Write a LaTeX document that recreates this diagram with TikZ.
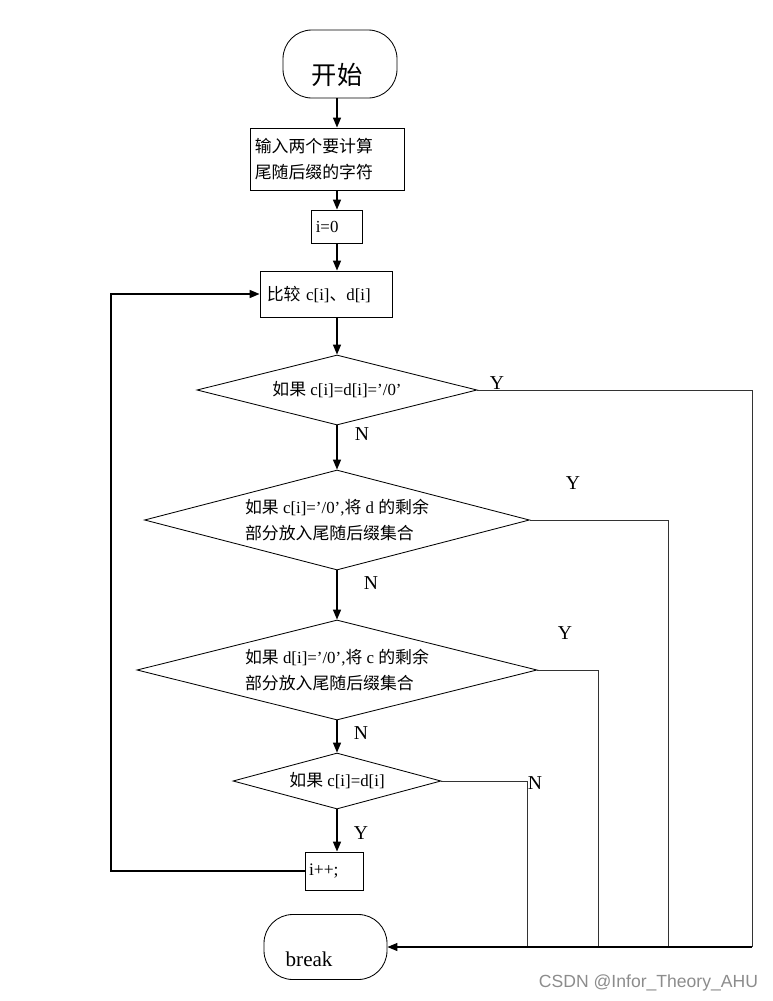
\documentclass[tikz,border=0pt]{standalone}
\usepackage{fontspec}
\setmainfont{Liberation Serif}
\newfontfamily\cjk{Noto Sans CJK SC}
\newfontfamily\wmfont{Liberation Sans}
\usetikzlibrary{arrows.meta,shapes.geometric}

\begin{document}
\begin{tikzpicture}[x=1cm,y=1cm,
  >={Triangle[length=0.25cm,width=0.2cm]},
  box/.style={draw,line width=0.6pt,inner xsep=0.12cm,inner ysep=0pt,align=left},
  term/.style={draw,line width=0.6pt,rounded corners=0.72cm},
  cond/.style={draw,diamond,line width=0.6pt,inner sep=0pt,align=left,font=\fontsize{12}{18}\selectfont},
  flow/.style={->,line width=1pt},
  rail/.style={line width=0.5pt,draw=black!80},
  yn/.style={font=\fontsize{14}{14}\selectfont}]
\useasboundingbox (0,0) rectangle (19.325,-25.025);

\coordinate (axis) at (8.425,0);
\coordinate (loop) at (2.775,0);
\coordinate (rail1) at (18.8,-23.675);
\coordinate (rail2) at (16.7,-23.675);
\coordinate (rail3) at (14.95,-23.675);
\coordinate (rail4) at (13.175,-23.675);

\node[term,minimum width=2.85cm,minimum height=1.7cm,
  label={[name=startlbl,xshift=-0.075cm,yshift=-0.275cm,font=\fontsize{18}{18}\cjk]center:开始}] (start) at (8.5,-1.6) {};
\node[box,minimum width=3.85cm,minimum height=1.55cm,text width=3.61cm,font=\fontsize{12}{18.5}\cjk] (input) at (8.175,-3.975) {输入两个要计算\\尾随后缀的字符};
\node[box,minimum width=1.275cm,minimum height=0.825cm,text width=1.035cm,font=\fontsize{12}{14}\selectfont] (init) at (8.4125,-5.6625) {i=0};
\node[box,inner xsep=0.17cm,minimum width=3.3cm,minimum height=1.15cm,text width=2.96cm,font=\fontsize{12}{14}\selectfont] (cmp) at (8.15,-7.35) {{\cjk 比较} c[i]{\cjk 、}d[i]};

\node[cond,minimum width=7cm,minimum height=1.75cm,aspect=4] (d1) at (8.425,-9.75) {{\cjk 如果} c[i]=d[i]=’/0’};
\node[cond,minimum width=9.625cm,minimum height=2.5cm,aspect=3.85] (d2) at (8.425,-13) {{\cjk 如果} c[i]=’/0’,{\cjk 将} d {\cjk 的剩余}\\{\cjk 部分放入尾随后缀集合}};
\node[cond,minimum width=10cm,minimum height=2.5cm,aspect=4] (d3) at (8.425,-16.75) {{\cjk 如果} d[i]=’/0’,{\cjk 将} c {\cjk 的剩余}\\{\cjk 部分放入尾随后缀集合}};
\node[cond,minimum width=5.2cm,minimum height=1.4cm,aspect=3.7] (d4) at (8.425,-19.525) {{\cjk 如果} c[i]=d[i]};

\node[box,inner xsep=0.1cm,minimum width=1.45cm,minimum height=0.95cm,text width=1.25cm,font=\fontsize{12.5}{14}\selectfont] (inc) at (8.35,-21.775) {i++;};
\node[term,minimum width=3.075cm,minimum height=1.625cm,
  label={[name=brklbl,xshift=-0.41cm,yshift=-0.3cm,font=\fontsize{15}{15}\selectfont]center:break}] (brk) at (8.1375,-23.675) {};

\draw[flow] (start.south -| axis) -- (input.north -| axis);
\draw[flow] (input.south -| axis) -- (init.north -| axis);
\draw[flow] (init.south -| axis) -- (cmp.north -| axis);
\draw[flow] (cmp.south -| axis) -- (d1.north);
\draw[flow] (d1.south) -- (d2.north);
\draw[flow] (d2.south) -- (d3.north);
\draw[flow] (d3.south) -- (d4.north);
\draw[flow] (d4.south) -- (inc.north -| axis);

\draw[flow,line width=1.1pt] (inc.west) -| (loop |- cmp.west) -- (cmp.west);

\draw[rail] (d1.east) -| (rail1);
\draw[rail] (d2.east) -| (rail2);
\draw[rail] (d3.east) -| (rail3);
\draw[rail] (d4.east) -| (rail4);
\draw[flow,line width=0.8pt] (rail1) -- (brk.east);

\node[yn] (y1) at (12.425,-9.575) {Y};
\node[yn] (n1) at (9.05,-10.85) {N};
\node[yn] (y2) at (14.325,-12.075) {Y};
\node[yn] (n2) at (9.275,-14.575) {N};
\node[yn] (y3) at (14.125,-15.825) {Y};
\node[yn] (n3) at (9.025,-18.325) {N};
\node[yn] (n4) at (13.375,-19.575) {N};
\node[yn] (y4) at (9.025,-20.825) {Y};

\node[font=\wmfont\fontsize{12.5}{12.5}\selectfont,text=black!45] (mark) at (16.2125,-24.575) {CSDN @Infor\_Theory\_AHU};
\end{tikzpicture}
\end{document}
